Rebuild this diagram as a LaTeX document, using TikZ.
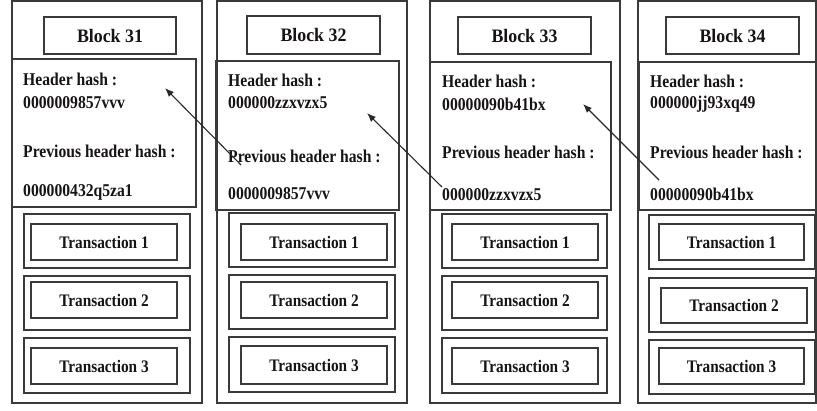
\documentclass[tikz,border=0pt]{standalone}
\usepackage{fontspec}
\setmainfont{Liberation Serif}
% slightly narrowed bold serif for all labels
\newfontfamily\bodyserif[FakeStretch=0.87]{Liberation Serif}
\newfontfamily\titleserif[FakeStretch=0.94]{Liberation Serif}
\usetikzlibrary{arrows.meta}
\definecolor{edge}{RGB}{58,58,58}
\definecolor{ink}{RGB}{24,20,20}
% \rectnode{name}{x1}{y1}{x2}{y2}{style}{text}: box given by its corners
\newcommand{\rectnode}[7]{\node[#6, minimum width={(#4)-(#2)}, minimum height={(#5)-(#3)}] (#1) at ({((#2)+(#4))/2},{((#3)+(#5))/2}) {#7};}
\begin{document}
\begin{tikzpicture}[x=1pt, y=-1pt,
  frame/.style={draw=edge, line width=1.2pt, inner sep=0pt},
  titlebox/.style={frame, text=ink, font=\titleserif\fontsize{19}{21}\selectfont\bfseries},
  txbox/.style={frame, text=ink, font=\bodyserif\fontsize{17.6}{20}\selectfont\bfseries},
  hdr/.style={anchor=base west, inner sep=0pt, text=ink, font=\bodyserif\fontsize{18}{21}\selectfont\bfseries},
  link/.style={draw=edge!70!black, line width=1.1pt, -{Latex[length=9pt,width=7pt]}}]
\useasboundingbox (0,0) rectangle (817,410);
\fill[white] (0,0) rectangle (817,410);

% ---------- Block 31 ----------
\rectnode{b31}{12}{1}{202}{403}{frame}{}
\rectnode{t31}{44}{17}{176}{54}{titlebox}{Block 31}
\rectnode{h31}{12}{59}{196}{207}{frame}{}
\node[hdr] (h31a) at (23,85) {Header hash :};
\node[hdr] (h31b) at (23,108) {0000009857vvv};
\node[hdr] (h31c) at (23,157) {Previous header hash :};
\node[hdr] (h31d) at (23,196) {000000432q5za1};
\rectnode{x31a}{24}{214}{190}{268}{frame}{}
\rectnode{x31b}{24}{276}{190}{330}{frame}{}
\rectnode{x31c}{24}{338}{190}{393}{frame}{}
\rectnode{y31a}{31}{224}{177}{260}{txbox}{Transaction 1}
\rectnode{y31b}{31}{282}{177}{318}{txbox}{Transaction 2}
\rectnode{y31c}{31}{348}{177}{384}{txbox}{Transaction 3}

% ---------- Block 32 ----------
\rectnode{b32}{217}{1}{407}{403}{frame}{}
\rectnode{t32}{247}{16}{380}{54}{titlebox}{Block 32}
\rectnode{h32}{216}{61}{399}{210}{frame}{}
\node[hdr] (h32a) at (228,86) {Header hash :};
\node[hdr] (h32b) at (228,108) {000000zzxvzx5};
\node[hdr] (h32c) at (228,162) {Previous header hash :};
\node[hdr] (h32d) at (228,199) {0000009857vvv};
\rectnode{x32a}{229}{213}{395}{267}{frame}{}
\rectnode{x32b}{229}{275}{395}{329}{frame}{}
\rectnode{x32c}{229}{337}{395}{392}{frame}{}
\rectnode{y32a}{241}{224}{387}{260}{txbox}{Transaction 1}
\rectnode{y32b}{241}{282}{387}{318}{txbox}{Transaction 2}
\rectnode{y32c}{241}{346}{387}{384}{txbox}{Transaction 3}

% ---------- Block 33 ----------
\rectnode{b33}{430}{1}{620}{403}{frame}{}
\rectnode{t33}{458}{17}{591}{54}{titlebox}{Block 33}
\rectnode{h33}{430}{62}{611}{210}{frame}{}
\node[hdr] (h33a) at (442,87) {Header hash :};
\node[hdr] (h33b) at (442,110) {00000090b41bx};
\node[hdr] (h33c) at (442,158) {Previous header hash :};
\node[hdr] (h33d) at (442,200) {000000zzxvzx5};
\rectnode{x33a}{442}{214}{607}{268}{frame}{}
\rectnode{x33b}{442}{276}{607}{330}{frame}{}
\rectnode{x33c}{442}{338}{607}{393}{frame}{}
\rectnode{y33a}{452}{224}{598}{260}{txbox}{Transaction 1}
\rectnode{y33b}{452}{282}{598}{318}{txbox}{Transaction 2}
\rectnode{y33c}{452}{348}{598}{384}{txbox}{Transaction 3}

% ---------- Block 34 ----------
\rectnode{b34}{638}{1}{816}{403}{frame}{}
\rectnode{t34}{666}{17}{799}{54}{titlebox}{Block 34}
\rectnode{h34}{639}{62}{816}{210}{frame}{}
\node[hdr] (h34a) at (650,87) {Header hash :};
\node[hdr] (h34b) at (650,108) {000000jj93xq49};
\node[hdr] (h34c) at (650,158) {Previous header hash :};
\node[hdr] (h34d) at (650,200) {00000090b41bx};
\rectnode{x34a}{649}{215}{815}{269}{frame}{}
\rectnode{x34b}{649}{278}{815}{332}{frame}{}
\rectnode{x34c}{649}{340}{815}{394}{frame}{}
\rectnode{y34a}{659}{224}{804}{260}{txbox}{Transaction 1}
\rectnode{y34b}{661}{288}{807}{323}{txbox}{Transaction 2}
\rectnode{y34c}{659}{348}{804}{384}{txbox}{Transaction 3}

% ---------- hash links: previous hash points back to the older header ----------
\coordinate (p32) at (241,165);
\coordinate (q31) at (165,88);
\coordinate (p33) at (442,187);
\coordinate (q32) at (367,113);
\coordinate (p34) at (659,180);
\coordinate (q33) at (583,104);
\draw[link] (p32) -- (q31);
\draw[link] (p33) -- (q32);
\draw[link] (p34) -- (q33);
\end{tikzpicture}
\end{document}
